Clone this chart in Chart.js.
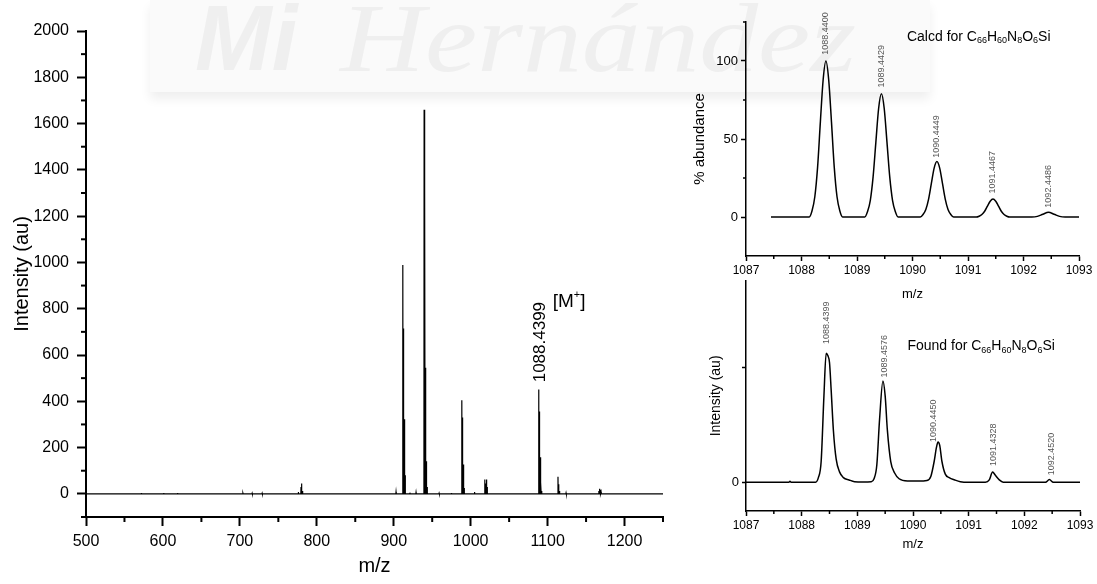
<!DOCTYPE html>
<html>
<head>
<meta charset="utf-8">
<script src="https://cdn.jsdelivr.net/npm/chart.js@4.4.0/dist/chart.umd.min.js"></script>
<style>
  body { margin: 0; background: #fff; width: 1097px; height: 584px; overflow: hidden; position: relative; }
  canvas { position: absolute; }
  #wm { position: absolute; left: 150px; top: 0; width: 780px; height: 92px; background: #fafafa;
        box-shadow: 0 7px 10px #efefef; overflow: hidden; }
  #wm span { position: absolute; font-family: "Liberation Serif", serif; font-style: italic; color: #efefef; white-space: nowrap; }
</style>
</head>
<body>
<div id="wm"><span style="left:45px;top:-14px;font-size:92px;font-weight:bold;font-family:'Liberation Sans',sans-serif;">Mi</span><span style="left:190px;top:-18px;font-size:98px;transform:scaleX(1.2);transform-origin:left top;">Hernández</span></div>
<canvas id="main" width="680" height="584" style="left:0;top:0"></canvas>
<canvas id="calc" width="417" height="305" style="left:680px;top:0"></canvas>
<canvas id="found" width="417" height="314" style="left:680px;top:270px"></canvas>
<script>
// main spectrum: stick positions (m/z) and intensities (au)
var stickMz  = [572, 601, 603, 619, 623, 704, 711, 716, 724, 729, 776, 779.5, 780.5, 781.5, 903,
                911.8, 912.8, 913.8, 914.8, 921, 929, 939.5, 940.5, 941.5, 942.5, 943.5, 959, 975,
                988.5, 989.5, 990.5, 991.5, 1005, 1018.4, 1019.4, 1020.4, 1021.4,
                1088.4, 1089.4, 1090.4, 1091.4, 1092.4, 1113.5, 1114.5, 1115.5, 1124,
                1166.5, 1167.5, 1168.5, 1169.5];
var stickInt = [4, 4, 3, 4, 3, 3, 3, 3, 3, 3, 8, 30, 45, 12, 8,
                989, 714, 322, 80, 5, 6, 1660, 1320, 545, 141, 30, 3, 4,
                405, 330, 127, 25, 8, 62, 45, 62, 30,
                451, 356, 158, 50, 12, 74, 42, 12, 4,
                12, 22, 18, 8];
var mainXTicks = [500, 600, 700, 800, 900, 1000, 1100, 1200];
var mainXMinor = [550, 650, 750, 850, 950, 1050, 1150, 1250];
var mainYTicks = [0, 200, 400, 600, 800, 1000, 1200, 1400, 1600, 1800, 2000];
var mainYMinor = [-100, 100, 300, 500, 700, 900, 1100, 1300, 1500, 1700, 1900];

// calculated isotope pattern (% abundance)
var calcMz = [1087.45, 1088.14, 1088.19, 1088.24, 1088.29, 1088.34, 1088.39, 1088.44, 1088.49, 1088.54, 1088.59, 1088.64, 1088.69, 1088.74,
              1089.14, 1089.19, 1089.24, 1089.29, 1089.34, 1089.39, 1089.44, 1089.49, 1089.54, 1089.59, 1089.64, 1089.69, 1089.74,
              1090.14, 1090.19, 1090.24, 1090.29, 1090.34, 1090.39, 1090.44, 1090.49, 1090.54, 1090.59, 1090.64, 1090.69, 1090.74,
              1091.15, 1091.2, 1091.25, 1091.3, 1091.35, 1091.4, 1091.45, 1091.5, 1091.55, 1091.6, 1091.65, 1091.7, 1091.75,
              1092.15, 1092.25, 1092.35, 1092.45, 1092.55, 1092.65, 1092.75, 1093];
var calcAb = [0, 0, 4, 13, 32, 61, 88, 100, 88, 61, 32, 13, 4, 0,
              0, 3.5, 10.7, 25.7, 48, 69.7, 79, 69.7, 48, 25.7, 10.7, 3.5, 0,
              0, 1.6, 4.8, 11.5, 21.5, 31.3, 35.5, 31.3, 21.5, 11.5, 4.8, 1.6, 0,
              0, 0.5, 1.6, 3.7, 7, 10.1, 11.5, 10.1, 7, 3.7, 1.6, 0.5, 0,
              0, 0.4, 1.8, 3, 1.8, 0.4, 0, 0];
var calcLabels = ['1088.4400', '1089.4429', '1090.4449', '1091.4467', '1092.4486'];
var calcLabelMz = [1088.44, 1089.44, 1090.44, 1091.45, 1092.45];
var calcLabelY = [104, 83, 38, 15, 6];

// measured isotope pattern (au)
var foundMz = [1087.0, 1087.5, 1087.77, 1087.79, 1087.81, 1088.25, 1088.3, 1088.35, 1088.4, 1088.44, 1088.47, 1088.5, 1088.53,
               1088.57, 1088.62, 1088.68, 1088.75, 1088.85, 1088.95, 1089.1, 1089.25, 1089.3, 1089.35, 1089.4, 1089.46,
               1089.5, 1089.54, 1089.6, 1089.67, 1089.75, 1089.9, 1090.1, 1090.25, 1090.32, 1090.38, 1090.42, 1090.45,
               1090.48, 1090.52, 1090.58, 1090.65, 1090.75, 1090.85, 1091.0, 1091.3, 1091.37, 1091.43, 1091.48, 1091.55,
               1091.62, 1092.0, 1092.38, 1092.45, 1092.52, 1093];
var foundInt = [0, 0, 0, 0.8, 0, 0, 4, 18, 75, 112, 110, 104, 80,
                45, 20, 9, 4, 2, 0.5, 0.3, 0.5, 3, 15, 55, 88,
                75, 45, 18, 8, 3, 1, 1, 1.5, 5, 18, 30, 35,
                32, 18, 7, 4, 2, 0.5, 0, 0, 2, 8.8, 6, 2,
                0, 0, 0, 2.3, 0, 0];
var foundLabels = ['1088.4399', '1089.4576', '1090.4450', '1091.4328', '1092.4520'];
var foundLabelMz = [1088.45, 1089.48, 1090.36, 1091.45, 1092.49];
var foundLabelY = [120, 91, 35, 14, 6];

var insetXTicks = [1087, 1088, 1089, 1090, 1091, 1092, 1093];
var insetXMinor = [1087.5, 1088.5, 1089.5, 1090.5, 1091.5, 1092.5];

var formula = [{t: 'C'}, {t: '66', sub: true}, {t: 'H'}, {t: '60', sub: true}, {t: 'N'}, {t: '8', sub: true},
               {t: 'O'}, {t: '6', sub: true}, {t: 'Si'}];

Chart.defaults.font.family = '"Liberation Sans", Arial, sans-serif';
Chart.defaults.color = '#000';

function sticks(mz, inten) {
    var pts = [{x: 500, y: 0}];
    mz.forEach(function(m, i) {
        pts.push({x: m - 0.25, y: 0}, {x: m, y: inten[i]}, {x: m + 0.25, y: 0});
    });
    pts.push({x: 1250, y: 0});
    return pts;
}
function pairs(xs, ys) {
    return xs.map(function(x, i) { return {x: x, y: ys[i]}; });
}

// minor ticks, rotated peak labels and formula text
var extras = {
    id: 'extras',
    afterDatasetsDraw: function(chart, args, o) {
        var ctx = chart.ctx, xs = chart.scales.x, ys = chart.scales.y;
        ctx.save();
        ctx.strokeStyle = '#000';
        ctx.lineWidth = o.tickW;
        (o.minorX || []).forEach(function(v) {
            var px = xs.getPixelForValue(v);
            ctx.beginPath(); ctx.moveTo(px, xs.top); ctx.lineTo(px, xs.top + o.minorLen); ctx.stroke();
        });
        (o.minorY || []).forEach(function(v) {
            var py = ys.getPixelForValue(v);
            ctx.beginPath(); ctx.moveTo(ys.right, py); ctx.lineTo(ys.right - o.minorLen, py); ctx.stroke();
        });
        (o.labels || []).forEach(function(l) {
            ctx.save();
            ctx.translate(xs.getPixelForValue(l.x), ys.getPixelForValue(l.y));
            ctx.rotate(-Math.PI / 2);
            ctx.font = l.font;
            ctx.fillStyle = l.color;
            ctx.textAlign = 'left';
            ctx.textBaseline = 'middle';
            ctx.fillText(l.text, 0, 0);
            ctx.restore();
        });
        (o.rich || []).forEach(function(r) {
            var x = xs.getPixelForValue(r.x), y = ys.getPixelForValue(r.y);
            ctx.fillStyle = '#000';
            ctx.textAlign = 'left';
            ctx.textBaseline = 'middle';
            r.parts.forEach(function(p) {
                ctx.font = (p.sub || p.sup ? r.small : r.big) + 'px "Liberation Sans", Arial, sans-serif';
                var dy = p.sub ? r.shift : (p.sup ? -r.shift : 0);
                ctx.fillText(p.t, x, y + dy);
                x += ctx.measureText(p.t).width;
            });
        });
        ctx.restore();
    }
};

function peakLabels(texts, mz, ys) {
    return texts.map(function(t, i) {
        return {text: t, x: mz[i], y: ys[i], font: '9px "Liberation Sans", Arial, sans-serif', color: '#555'};
    });
}

function axis(opts) {
    return {
        type: 'linear',
        min: opts.min,
        max: opts.max,
        afterBuildTicks: function(s) { s.ticks = opts.ticks.map(function(v) { return {value: v}; }); },
        afterFit: function(s) { if (opts.w) { s.width = opts.w; } else { s.height = opts.h; } },
        ticks: {
            font: {size: opts.fs}, color: '#000', padding: opts.pad, maxRotation: 0, autoSkip: false,
            callback: opts.cb || function(v) { return v; }
        },
        grid: {drawOnChartArea: false, tickLength: opts.tl, tickWidth: opts.lw, tickColor: '#000'},
        border: {color: '#000', width: opts.lw},
        title: {display: true, text: opts.title, font: {size: opts.tfs}, color: '#000', padding: opts.tpad}
    };
}

new Chart(document.getElementById('main'), {
    type: 'line',
    data: {datasets: [{data: sticks(stickMz, stickInt), borderColor: '#000', borderWidth: 1.2, pointRadius: 0, tension: 0}]},
    options: {
        responsive: false, animation: false, events: [],
        layout: {padding: {top: 31, right: 17, left: 0, bottom: 0}},
        plugins: {
            legend: {display: false}, tooltip: {enabled: false},
            extras: {
                tickW: 2, minorLen: 5, minorX: mainXMinor, minorY: mainYMinor,
                labels: [{text: '1088.4399', x: 1090.4, y: 482, font: '17px "Liberation Sans", Arial, sans-serif', color: '#000'}],
                rich: [{x: 1106.7, y: 828, big: 19, small: 11, shift: 7, parts: [{t: '[M'}, {t: '+', sup: true}, {t: ']'}]}]
            }
        },
        scales: {
            x: axis({min: 500, max: 1250, ticks: mainXTicks, h: 67, fs: 16, pad: 6, tl: 9, lw: 2, title: 'm/z', tfs: 20, tpad: {top: 0, bottom: 6}}),
            y: axis({min: -100, max: 2000, ticks: mainYTicks, w: 86, fs: 16, pad: 8, tl: 9, lw: 2, title: 'Intensity (au)', tfs: 20, tpad: {top: 10, bottom: 0}})
        }
    },
    plugins: [extras]
});

new Chart(document.getElementById('calc'), {
    type: 'line',
    data: {datasets: [{data: pairs(calcMz, calcAb), borderColor: '#000', borderWidth: 1.5, pointRadius: 0, cubicInterpolationMode: 'monotone'}]},
    options: {
        responsive: false, animation: false, events: [],
        layout: {padding: {top: 22, right: 18, left: 0, bottom: 0}},
        plugins: {
            legend: {display: false}, tooltip: {enabled: false},
            extras: {
                tickW: 1.5, minorLen: 3, minorX: insetXMinor, minorY: [25, 75, 125],
                labels: peakLabels(calcLabels, calcLabelMz, calcLabelY),
                rich: [{x: 1089.9, y: 115.6, big: 14, small: 9, shift: 4, parts: [{t: 'Calcd for '}].concat(formula)}]
            }
        },
        scales: {
            x: axis({min: 1087, max: 1093, ticks: insetXTicks, h: 49, fs: 12, pad: 2, tl: 5, lw: 1.5, title: 'm/z', tfs: 13, tpad: {top: 0, bottom: 3}}),
            y: axis({min: -25, max: 125, ticks: [0, 50, 100], w: 66, fs: 13, pad: 3, tl: 5, lw: 1.5, title: '% abundance', tfs: 15, tpad: {top: 11, bottom: 0}})
        }
    },
    plugins: [extras]
});

new Chart(document.getElementById('found'), {
    type: 'line',
    data: {datasets: [{data: pairs(foundMz, foundInt), borderColor: '#000', borderWidth: 1.5, pointRadius: 0, cubicInterpolationMode: 'monotone'}]},
    options: {
        responsive: false, animation: false, events: [],
        layout: {padding: {top: 7, right: 17, left: 0, bottom: 0}},
        plugins: {
            legend: {display: false}, tooltip: {enabled: false},
            extras: {
                tickW: 1.5, minorLen: 3, minorX: insetXMinor, minorY: [],
                labels: peakLabels(foundLabels, foundLabelMz, foundLabelY),
                rich: [{x: 1089.9, y: 118, big: 14, small: 9, shift: 4, parts: [{t: 'Found for '}].concat(formula)}]
            }
        },
        scales: {
            x: axis({min: 1087, max: 1093, ticks: insetXTicks, h: 73, fs: 12, pad: 2, tl: 5, lw: 1.5, title: 'm/z', tfs: 13, tpad: {top: 0, bottom: 32}}),
            y: axis({min: -25, max: 175, ticks: [0, 100], w: 66, fs: 13, pad: 3, tl: 4, lw: 1.5, title: 'Intensity (au)', tfs: 14, tpad: {top: 28, bottom: 0},
                     cb: function(v) { return v === 0 ? '0' : ''; }})
        }
    },
    plugins: [extras]
});
</script>
</body>
</html>
